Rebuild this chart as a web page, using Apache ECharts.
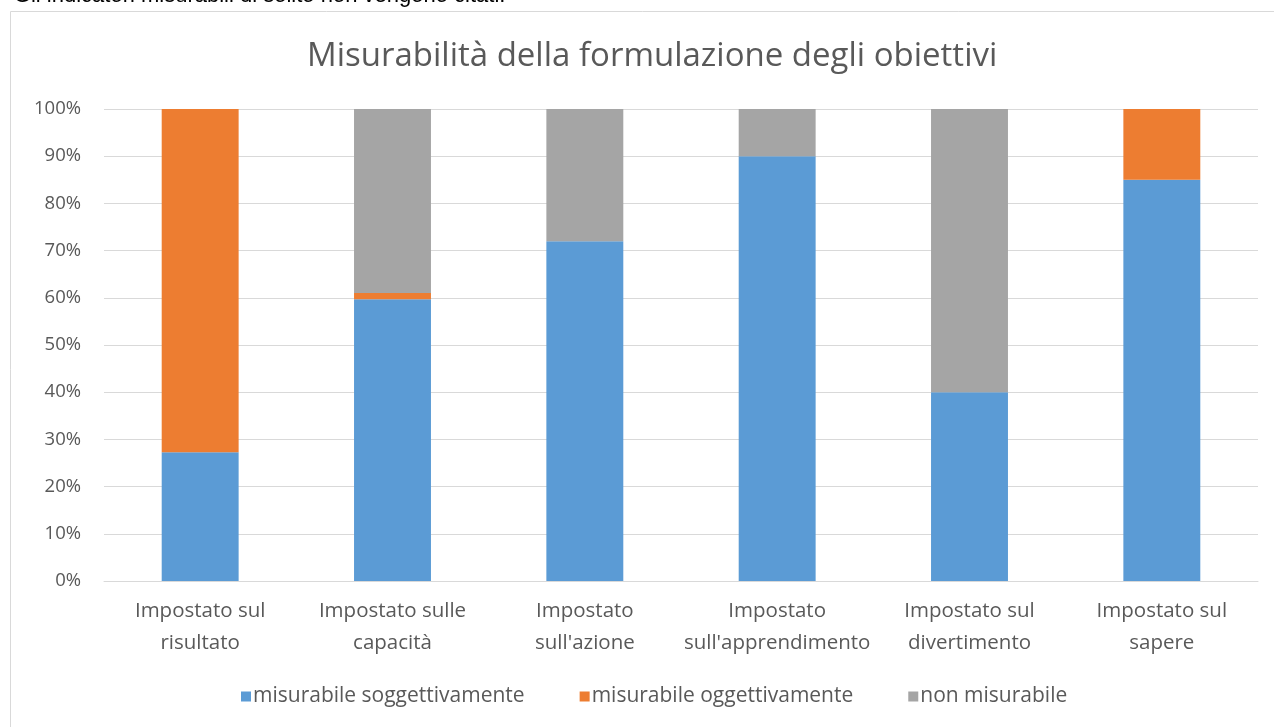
<!DOCTYPE html>
<html><head><meta charset="utf-8">
<script src="https://cdn.jsdelivr.net/npm/echarts@6/dist/echarts.min.js"></script>
<style>html,body{margin:0;padding:0;background:#fff}#c{width:1274px;height:727px}</style>
</head><body><div id="c"></div>
<script>
const categories = ["Impostato sul\nrisultato", "Impostato sulle\ncapacità", "Impostato\nsull'azione", "Impostato\nsull'apprendimento", "Impostato sul\ndivertimento", "Impostato sul\nsapere"];
const seriesNames = ["misurabile soggettivamente", "misurabile oggettivamente", "non misurabile"];
const soggettivamente = [27.3, 59.7, 72, 90, 40, 85];
const oggettivamente = [72.7, 1.3, 0, 0, 0, 15];
const nonMisurabile = [0, 39, 28, 10, 60, 0];
const colors = ["#5b9bd5", "#ed7d31", "#a5a5a5"];
const FONT = "'Open Sans', 'Liberation Sans', Arial, sans-serif";
const chart = echarts.init(document.getElementById('c'));
const mk = (name, data, i) => ({name, type: 'bar', stack: 's', data, barWidth: '40%', itemStyle: {color: colors[i]}});
chart.setOption({
  animation: false,
  textStyle: {fontFamily: FONT},
  graphic: [
    {type: 'rect', shape: {x: 10.5, y: 11.5, width: 1300, height: 800}, style: {fill: 'none', stroke: '#d9d9d9', lineWidth: 1}},
    {type: 'text', left: 0, top: -15, style: {text: '• Gli indicatori misurabili di solito non vengono citati.', font: "22px 'Liberation Sans', Arial", fill: '#000'}}
  ],
  title: {text: 'Misurabilità della formulazione degli obiettivi', left: 302, top: 35, textStyle: {fontFamily: FONT, fontSize: 33, fontWeight: 'normal', color: '#595959'}},
  legend: {bottom: 15, left: 236, itemWidth: 10, itemHeight: 10, itemGap: 55, icon: 'rect', textStyle: {fontFamily: FONT, fontSize: 21, color: '#595959', padding: [0,0,0,-3]}, data: seriesNames},
  grid: {left: 104, right: 16, top: 109, bottom: 146},
  xAxis: {type: 'category', data: categories, axisLine: {lineStyle: {color: '#d9d9d9'}}, axisTick: {show: false},
    axisLabel: {fontFamily: FONT, fontSize: 20.5, color: '#595959', lineHeight: 32, margin: 14, interval: 0}},
  yAxis: {type: 'value', min: 0, max: 100, interval: 10, axisLine: {show: false}, axisTick: {show: false},
    splitLine: {lineStyle: {color: '#d9d9d9'}},
    axisLabel: {fontFamily: FONT, fontSize: 18.5, color: '#595959', margin: 23, formatter: v => v + '%'}},
  series: [mk(seriesNames[0], soggettivamente, 0), mk(seriesNames[1], oggettivamente, 1), mk(seriesNames[2], nonMisurabile, 2)]
});
</script></body></html>
